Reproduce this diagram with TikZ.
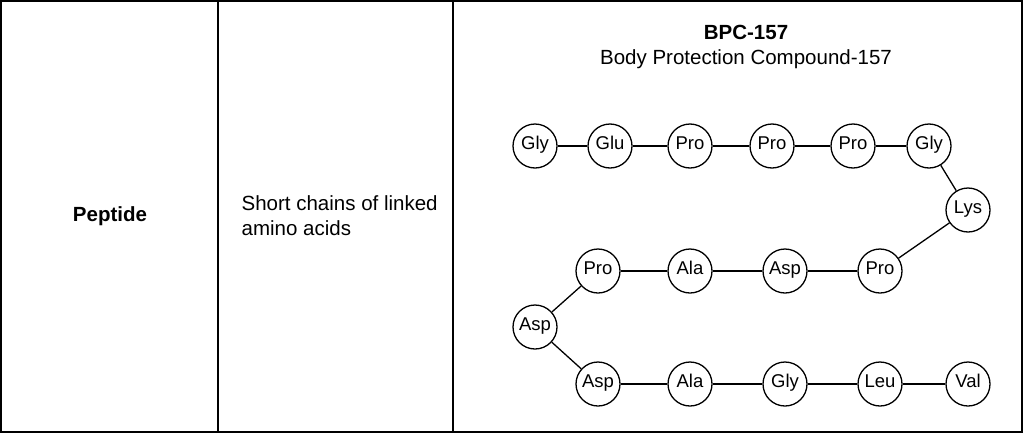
\documentclass[tikz,border=0pt]{standalone}
\usepackage{fontspec}
\setmainfont{Liberation Sans}
\usetikzlibrary{positioning}

\begin{document}
\begin{tikzpicture}[%
    x=1pt, y=-1pt,              % pixel-like units, top-down
    line width=1.3pt,
    ]
% -------------------------------------------------
% Styles
\tikzset{
  acid/.style={draw, circle, minimum size=44pt, inner sep=0pt,
    text height=11pt, text depth=5pt,
    font=\fontsize{18.5}{21}\selectfont},
  cell/.style={font=\fontsize{20.5}{25}\selectfont},
  bond/.style={draw},
}
% -------------------------------------------------
% Table frame
\useasboundingbox (0,0) rectangle (1024,434);
\draw (1,1) rectangle (1022,432);
\draw (218,1) -- (218,432);
\draw (453,1) -- (453,432);

\node [cell, font=\fontsize{20.5}{25}\selectfont\bfseries] (name) at (110,216) {Peptide};
\node [cell, anchor=west, align=left, inner sep=0pt] (desc) at (241,216) {Short chains of linked\\amino acids};
\node [cell, align=center] (title) at (746,47)
  {\textbf{BPC-157}\\Body Protection Compound-157};

% -------------------------------------------------
% Amino acid chain
\node [acid] (g1) at (535,146) {Gly};
\node [acid] (e1) at (610,146) {Glu};
\node [acid] (p1) at (690,146) {Pro};
\node [acid] (p2) at (772,146) {Pro};
\node [acid] (p3) at (853,146) {Pro};
\node [acid] (g2) at (929,146) {Gly};
\node [acid] (k1) at (968,210) {Lys};
\node [acid] (p4) at (880,271) {Pro};
\node [acid] (d1) at (785,271) {Asp};
\node [acid] (a1) at (690,271) {Ala};
\node [acid] (p5) at (598,271) {Pro};
\node [acid] (d2) at (535,327) {Asp};
\node [acid] (d3) at (598,384) {Asp};
\node [acid] (a2) at (690,384) {Ala};
\node [acid] (g3) at (785,384) {Gly};
\node [acid] (l1) at (880,384) {Leu};
\node [acid] (v1) at (968,384) {Val};

\foreach \u/\v in {g1/e1, e1/p1, p1/p2, p2/p3, p3/g2, g2/k1, k1/p4,
    p4/d1, d1/a1, a1/p5, p5/d2, d2/d3, d3/a2, a2/g3, g3/l1, l1/v1}
  \draw[bond] (\u) -- (\v);

% -------------------------------------------------
\end{tikzpicture}
\end{document}
